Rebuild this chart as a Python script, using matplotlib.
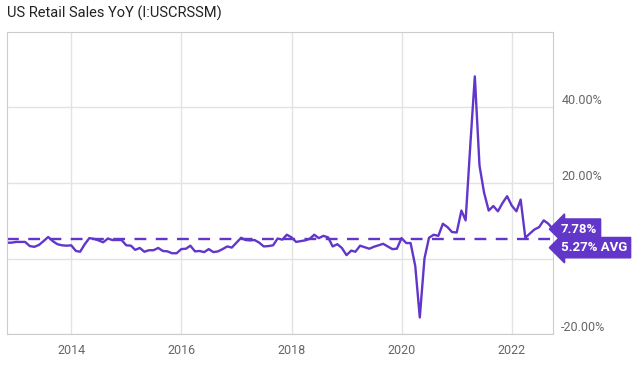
import matplotlib
matplotlib.use("Agg")
import matplotlib.pyplot as plt
import matplotlib.dates as mdates
import matplotlib.transforms as mtransforms
import pandas as pd

plt.rcParams['font.family'] = ['Roboto', 'DejaVu Sans']

# monthly YoY % (Oct 2012 .. Sep 2022)
yoy = [4.2, 4.2, 4.4, 4.4, 4.4, 3.3, 3.1, 3.6, 4.6, 5.7, 4.6, 3.8,
       3.5, 3.4, 3.5, 2.0, 1.8, 3.8, 5.4, 5.2, 4.8, 4.3, 5.3, 4.9,
       4.9, 4.9, 3.5, 3.4, 2.3, 2.8, 1.8, 2.2, 2.2, 2.8, 2.0, 1.9,
       1.4, 1.4, 2.5, 2.6, 3.4, 1.9, 2.0, 1.7, 2.5, 1.7, 1.9, 2.5,
       3.2, 2.9, 4.2, 5.5, 4.9, 4.8, 4.9, 4.2, 3.2, 3.3, 3.5, 5.3,
       5.0, 6.3, 5.6, 4.4, 4.6, 4.8, 5.2, 6.3, 5.4, 6.0, 5.6, 3.2,
       3.8, 2.8, 0.9, 2.1, 1.8, 3.4, 3.0, 2.6, 3.1, 3.5, 3.9, 3.2,
       2.5, 2.6, 5.4, 4.1, 4.1, -2.0, -15.6, 0.0, 5.5, 6.3, 6.0, 9.2,
       8.3, 7.0, 6.9, 12.7, 10.1, 30.0, 48.2, 24.6, 17.5, 12.7, 13.9, 12.5,
       14.7, 16.5, 14.0, 12.5, 15.6, 5.5, 6.6, 7.7, 8.3, 10.1, 9.2, 7.78]
dates = pd.date_range("2012-10-31", periods=len(yoy), freq="ME")
avg = 5.27
last = yoy[-1]
year_ticks = [2014, 2016, 2018, 2020, 2022]
y_ticks = [-20, 0, 20, 40]

purple = "#6236c9"

fig = plt.figure(figsize=(6.37, 3.70), dpi=100)
ax = fig.add_axes([0.011, 0.097, 0.857, 0.817])

ax.plot(dates, yoy, color=purple, lw=1.7)
ax.axhline(avg, color=purple, lw=1.7, ls=(0, (5, 4)))

ax.set_xlim(dates[0], dates[-1])
ax.set_ylim(-19.5, 60)

ax.set_xticks([pd.Timestamp(f"{y}-01-01") for y in year_ticks])
ax.xaxis.set_major_formatter(mdates.DateFormatter("%Y"))
ax.set_yticks(y_ticks)
# the 0% label sits under the AVG tag in the original
ax.set_yticklabels(["" if v == 0 else f"{v:.2f}%" for v in y_ticks])
ax.yaxis.tick_right()
ax.tick_params(axis="both", length=0, labelsize=9, labelcolor="#666666")
ax.tick_params(axis="x", pad=7)
ax.tick_params(axis="y", pad=6)
for lab in ax.get_yticklabels():
    lab.set_verticalalignment("bottom")

ax.grid(True, color="#e3e3e3", lw=1)
ax.set_axisbelow(True)
for s in ax.spines.values():
    s.set_color("#cccccc")

# value tags on the right
tr = mtransforms.blended_transform_factory(ax.transAxes, ax.transData)
box = dict(boxstyle="larrow,pad=0.28", fc=purple, ec=purple)
ax.text(1.014, last, f"{last:.2f}%", transform=tr, color="white", fontsize=9.5,
        fontweight="bold", va="center", ha="left", bbox=box)
off = mtransforms.offset_copy(tr, fig=fig, y=-6.5, units="points")
ax.text(1.014, avg, f"{avg:.2f}% AVG", transform=off, color="white", fontsize=9.5,
        fontweight="bold", va="center", ha="left", bbox=box)

fig.text(0.011, 0.965, "US Retail Sales YoY (I:USCRSSM)", fontsize=10.5,
         color="#222222", va="center", ha="left")

fig.savefig("out.png", dpi=100)
